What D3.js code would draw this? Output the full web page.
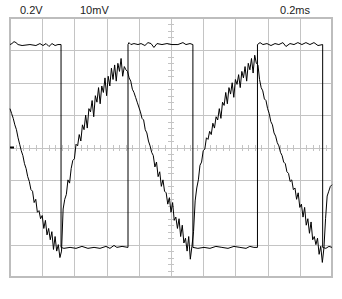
<!DOCTYPE html>
<html>
<head>
<meta charset="utf-8">
<script src="https://cdn.jsdelivr.net/npm/d3@7"></script>
<style>
  body { margin: 0; background: #fff; }
  text { font-family: "Liberation Sans", Arial, sans-serif; }
</style>
</head>
<body>
<div id="scope"></div>
<script>
// channel labels (volts/div, volts/div, time/div)
const labels = ['0.2V', '10mV', '0.2ms'];

// channel A: square wave, [time ms, volts]
const squareWave = [
  [0, 0.636], [0.012, 0.642], [0.025, 0.654], [0.037, 0.648], [0.050, 0.636], [0.075, 0.630],
  [0.124, 0.636], [0.161, 0.630], [0.186, 0.642], [0.205, 0.630], [0.224, 0.642], [0.242, 0.624],
  [0.261, 0.642], [0.280, 0.630], [0.298, 0.636], [0.317, 0.636],
  [0.317, -0.617], [0.335, -0.623], [0.373, -0.617], [0.410, -0.623], [0.447, -0.611], [0.484, -0.623],
  [0.522, -0.617], [0.559, -0.623], [0.596, -0.611], [0.621, -0.623], [0.646, -0.605], [0.664, -0.617],
  [0.696, -0.611], [0.733, -0.617],
  [0.733, 0.636], [0.739, 0.648], [0.751, 0.636], [0.770, 0.642], [0.795, 0.636], [0.814, 0.642],
  [0.838, 0.630], [0.857, 0.648], [0.876, 0.642], [0.894, 0.618], [0.913, 0.642], [0.944, 0.636],
  [0.975, 0.642], [1.006, 0.636], [1.043, 0.636], [1.074, 0.648], [1.093, 0.636], [1.118, 0.642],
  [1.136, 0.636],
  [1.136, -0.617], [1.167, -0.623], [1.205, -0.617], [1.242, -0.623], [1.279, -0.611], [1.316, -0.617],
  [1.354, -0.623], [1.391, -0.611], [1.428, -0.617], [1.466, -0.623], [1.490, -0.611], [1.515, -0.617],
  [1.537, -0.617],
  [1.537, 0.636], [1.553, 0.648], [1.571, 0.636], [1.596, 0.642], [1.621, 0.630], [1.646, 0.642],
  [1.670, 0.636], [1.695, 0.648], [1.714, 0.624], [1.739, 0.642], [1.764, 0.636], [1.788, 0.648],
  [1.813, 0.636], [1.838, 0.648], [1.863, 0.636], [1.888, 0.648], [1.913, 0.630], [1.942, 0.636],
  [1.942, -0.617], [1.962, -0.623], [1.981, -0.611], [2.0, -0.617]
];

// channel B: noisy triangle, mV, one sample every 0.01 ms
const sampleStep = 0.01;
const triangleWave = [
  12, 10.5, 9, 7, 5.5, 3, 1, -1, -2.5, -5,
  -6.5, -9, -10.5, -13, -13.5, -17, -16, -20, -19.5, -22,
  -21, -25, -22.5, -27, -25, -28.5, -26, -31.5, -27.5, -32,
  -30, -34, -32, -19, -16, -14.5, -10, -11, -6.5, -4,
  -3.5, 1, 0.5, 4, 2, 7, 5.5, 10, 6, 12,
  11, 14.5, 9.5, 16, 14, 18.5, 13.5, 19, 17, 21.5,
  16, 22, 19, 24.5, 21, 25.5, 20.5, 26, 23.5, 27.5,
  22, 25, 24, 23.5, 21.5, 20.5, 18, 17, 15.5, 14,
  12.5, 11, 9, 8.5, 5.5, 4.5, 2, 0.5, -1.5, -2.5,
  -6, -4.5, -9, -7.5, -12, -10, -13.5, -14, -17.5, -15.5,
  -20, -17, -22.5, -21.5, -25, -22, -27.5, -24, -29.5, -28,
  -32, -27.5, -34.5, -30.5, -26, -16.5, -12.5, -10, -5.5, -4.5,
  -1, -0.5, 3, 2.5, 5, 4, 7.5, 6, 9.5, 8.5,
  12, 9, 14, 13, 17, 13.5, 18.5, 16.5, 20, 15.5,
  21, 19.5, 22.5, 18.5, 23.5, 21.5, 25, 20.5, 26, 24,
  27.5, 23, 28.5, 26, 25.5, 21, 18.5, 17.5, 15, 14.5,
  12, 10.5, 8, 7, 4.5, 3.5, 1.5, 0.5, -1.5, -2.5,
  -4.5, -5, -7.5, -8, -10.5, -10, -13, -12.5, -16, -14,
  -18.5, -17.5, -21.5, -18.5, -24, -22, -26.5, -23, -28.5, -27.5,
  -30, -28, -33, -30.5, -35.5, -31, -22, -15, -13.5, -12,
  -11.5
];

const width = 342;
const height = 299;
const plot = { left: 10, right: 332, top: 18, bottom: 277 };
const gridColor = '#c4c4c4';

const svg = d3.select('#scope')
  .append('svg')
  .attr('width', width)
  .attr('height', height);

const x = d3.scaleLinear().domain([0, 2]).range([plot.left, plot.right]);
const yA = d3.scaleLinear().domain([-0.8, 0.8]).range([plot.bottom, plot.top]);
const yB = d3.scaleLinear().domain([-40, 40]).range([plot.bottom, plot.top]);

// grid
svg.append('g')
  .attr('transform', `translate(0,${plot.bottom})`)
  .call(d3.axisBottom(x).tickValues(d3.range(0, 2.001, 0.2)).tickSize(-(plot.bottom - plot.top)).tickFormat(''))
  .call(g => g.select('.domain').remove())
  .call(g => g.selectAll('line').attr('stroke', gridColor).attr('shape-rendering', 'crispEdges'));

svg.append('g')
  .attr('transform', `translate(${plot.left},0)`)
  .call(d3.axisLeft(yA).tickValues(d3.range(-0.8, 0.801, 0.2)).tickSize(-(plot.right - plot.left)).tickFormat(''))
  .call(g => g.select('.domain').remove())
  .call(g => g.selectAll('line').attr('stroke', gridColor).attr('shape-rendering', 'crispEdges'));

// minor ticks on the centre cross
svg.append('g')
  .attr('transform', `translate(${x(1) + 3},0)`)
  .call(d3.axisLeft(yA).tickValues(d3.range(-0.8, 0.801, 0.04)).tickSize(6).tickFormat(''))
  .call(g => g.select('.domain').remove())
  .call(g => g.selectAll('line').attr('stroke', gridColor).attr('shape-rendering', 'crispEdges'));

svg.append('g')
  .attr('transform', `translate(0,${yA(0) - 3})`)
  .call(d3.axisBottom(x).tickValues(d3.range(0, 2.001, 0.04)).tickSize(6).tickFormat(''))
  .call(g => g.select('.domain').remove())
  .call(g => g.selectAll('line').attr('stroke', gridColor).attr('shape-rendering', 'crispEdges'));

// frame
svg.append('rect')
  .attr('x', plot.left)
  .attr('y', plot.top)
  .attr('width', plot.right - plot.left)
  .attr('height', plot.bottom - plot.top)
  .attr('fill', 'none')
  .attr('stroke', '#bdbdbd')
  .attr('stroke-width', 2);

// channel zero marker
svg.append('line')
  .attr('x1', plot.left).attr('x2', plot.left + 4)
  .attr('y1', yB(0)).attr('y2', yB(0))
  .attr('stroke', '#000').attr('stroke-width', 2);

// traces
svg.append('path')
  .datum(triangleWave)
  .attr('fill', 'none')
  .attr('stroke', '#000')
  .attr('stroke-width', 1)
  .attr('d', d3.line().x((d, i) => x(i * sampleStep)).y(d => yB(d)));

svg.append('path')
  .datum(squareWave)
  .attr('fill', 'none')
  .attr('stroke', '#000')
  .attr('stroke-width', 1)
  .attr('d', d3.line().x(d => x(d[0])).y(d => yA(d[1])));

// labels
svg.append('g')
  .selectAll('text')
  .data(labels)
  .join('text')
    .attr('x', (d, i) => [20, 80, 310][i])
    .attr('y', 14)
    .attr('text-anchor', (d, i) => i === 2 ? 'end' : 'start')
    .attr('font-size', '11px')
    .attr('fill', '#222')
    .text(d => d);
</script>
</body>
</html>
